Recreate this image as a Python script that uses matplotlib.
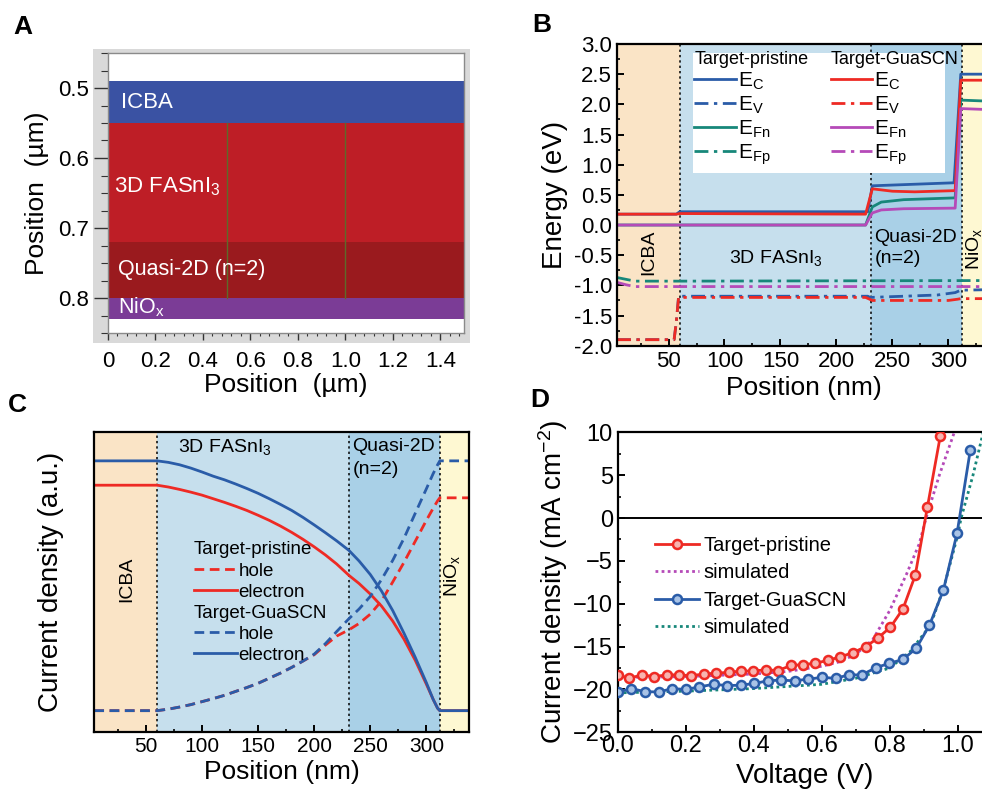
import matplotlib
matplotlib.use('Agg')
import matplotlib.pyplot as plt
from matplotlib.patches import Rectangle
from matplotlib.ticker import MultipleLocator, FormatStrFormatter

plt.rcParams['font.family'] = ['Liberation Sans', 'DejaVu Sans']
plt.rcParams['mathtext.fontset'] = 'custom'
plt.rcParams['mathtext.rm'] = 'Liberation Sans'
plt.rcParams['mathtext.it'] = 'Liberation Sans:italic'
plt.rcParams['mathtext.default'] = 'regular'

# ---- panel A: device layer stack (um)
layer_names = ['ICBA', '3D FASnI$_3$', 'Quasi-2D (n=2)', 'NiO$_x$']
layer_top = [0.49, 0.55, 0.72, 0.80]
layer_bottom = [0.55, 0.72, 0.80, 0.83]
layer_colors = ['#3A52A3', '#BE1E26', '#9A1A1E', '#7B3C96']
mesh_x = [0.5, 1.0]

# ---- region boundaries (nm) for B and C
x_min, x_max = 4, 338
b_icba, b_3d, b_q2d = 60, 231, 312

# ---- panel B: band diagram (eV)
ec_p_x = [4, 57, 60, 228, 232, 305, 311, 340]
ec_p = [0.18, 0.18, 0.22, 0.22, 0.65, 0.70, 2.50, 2.50]
ev_p_x = [4, 55, 57, 59, 228, 230, 290, 306, 311, 340]
ev_p = [-1.90, -1.90, -1.6, -1.18, -1.18, -1.20, -1.16, -1.12, -1.08, -1.07]
efn_p_x = [4, 226, 232, 240, 260, 306, 311, 340]
efn_p = [0.0, 0.0, 0.30, 0.38, 0.42, 0.45, 2.07, 2.05]
efp_p_x = [4, 12, 20, 60, 340]
efp_p = [-0.87, -0.90, -0.93, -0.93, -0.92]

ec_g_x = [4, 57, 60, 226, 232, 250, 270, 306, 311, 340]
ec_g = [0.18, 0.18, 0.19, 0.18, 0.60, 0.56, 0.55, 0.57, 2.40, 2.40]
ev_g_x = [4, 55, 57, 59, 226, 232, 300, 308, 311, 340]
ev_g = [-1.90, -1.90, -1.6, -1.20, -1.20, -1.25, -1.25, -1.23, -1.22, -1.22]
efn_g_x = [4, 226, 232, 240, 260, 306, 311, 340]
efn_g = [0.0, 0.0, 0.20, 0.25, 0.27, 0.28, 1.93, 1.91]
efp_g_x = [4, 12, 20, 60, 340]
efp_g = [-0.95, -0.99, -1.02, -1.02, -1.02]

# ---- panel C: current density (a.u.)
pos_c = [4, 60, 70, 80, 90, 100, 110, 120, 130, 140, 150, 160, 170, 180, 190,
         200, 210, 220, 231, 240, 250, 260, 270, 280, 290, 300, 306, 310, 312,
         338]
elec_g = [0.903, 0.903, 0.898, 0.89, 0.879, 0.866, 0.852, 0.84, 0.826, 0.811,
          0.795, 0.777, 0.758, 0.738, 0.715, 0.69, 0.664, 0.637, 0.605, 0.57,
          0.525, 0.47, 0.405, 0.33, 0.25, 0.165, 0.11, 0.08, 0.072, 0.072]
elec_p = [0.822, 0.822, 0.816, 0.808, 0.799, 0.789, 0.777, 0.765, 0.752, 0.738,
          0.722, 0.705, 0.686, 0.665, 0.642, 0.617, 0.59, 0.56, 0.522, 0.495,
          0.46, 0.42, 0.37, 0.31, 0.24, 0.16, 0.11, 0.08, 0.072, 0.072]
hole_g = [0.072, 0.072, 0.077, 0.084, 0.092, 0.102, 0.112, 0.123, 0.136, 0.149,
          0.163, 0.18, 0.197, 0.216, 0.237, 0.26, 0.295, 0.335, 0.378, 0.41,
          0.452, 0.508, 0.572, 0.645, 0.728, 0.81, 0.86, 0.89, 0.903, 0.903]
hole_p = [0.072, 0.072, 0.077, 0.084, 0.092, 0.102, 0.112, 0.123, 0.136, 0.149,
          0.163, 0.18, 0.197, 0.216, 0.237, 0.258, 0.29, 0.32, 0.341, 0.362,
          0.393, 0.437, 0.5, 0.565, 0.635, 0.705, 0.745, 0.77, 0.78, 0.78]

# ---- panel D: J-V curves
v_p = [0.0, 0.034, 0.071, 0.108, 0.144, 0.179, 0.216, 0.253, 0.290, 0.327,
       0.363, 0.399, 0.436, 0.471, 0.51, 0.546, 0.581, 0.618, 0.655, 0.692,
       0.73, 0.765, 0.802, 0.839, 0.875, 0.911, 0.949]
j_p = [-18.3, -18.7, -18.3, -18.5, -18.3, -18.3, -18.4, -18.2, -18.1, -18.0,
       -17.85, -17.85, -17.7, -17.8, -17.2, -17.1, -16.95, -16.6, -16.2, -15.7,
       -15.0, -14.0, -12.75, -10.6, -6.7, 1.3, 9.6]
v_g = [0.0, 0.040, 0.080, 0.121, 0.160, 0.201, 0.240, 0.282, 0.322, 0.363,
       0.402, 0.441, 0.480, 0.520, 0.559, 0.600, 0.642, 0.679, 0.718, 0.760,
       0.799, 0.839, 0.878, 0.917, 0.958, 0.998, 1.037]
j_g = [-20.3, -19.9, -20.25, -20.3, -19.9, -20.0, -19.7, -19.4, -19.55, -19.5,
       -19.3, -19.0, -18.9, -19.0, -18.8, -18.6, -18.7, -18.3, -18.3, -17.45,
       -16.95, -16.5, -15.2, -12.5, -8.4, -1.8, 7.9]
v_sim_p = [0.0, 0.2, 0.4, 0.5, 0.6, 0.65, 0.7, 0.75, 0.8, 0.85, 0.887, 0.907,
           0.946, 0.99]
j_sim_p = [-18.6, -18.5, -18.2, -17.9, -17.3, -16.8, -15.9, -14.2, -10.8,
           -6.5, -3.0, 0.0, 5.0, 10.0]
v_sim_g = [0.0, 0.2, 0.4, 0.6, 0.7, 0.8, 0.86, 0.92, 0.96, 1.0, 1.01, 1.045,
           1.075]
j_sim_g = [-20.4, -20.2, -19.9, -19.4, -18.7, -17.5, -15.6, -12.5, -8.0,
           -2.0, 0.0, 5.0, 10.0]

red = '#EE2A24'
blue = '#2A5CA8'
magenta = '#B54AB8'
teal = '#17877A'
dashdot = (0, (5, 2, 1.2, 2))

fig = plt.figure(figsize=(9.82, 8.0), dpi=100)
W, H = 982.0, 800.0


def box(l, t, r, b):
    return [l / W, 1 - b / H, (r - l) / W, (b - t) / H]


# ================= A
fig.patches.append(Rectangle((93 / W, 1 - 343 / H), 377 / W, 294 / H,
                             transform=fig.transFigure, facecolor='#D9D9D9',
                             edgecolor='none', zorder=-5))
axA = fig.add_axes(box(108, 53, 464, 333))
axA.set_zorder(2)
for name, top, bot, col in zip(layer_names, layer_top, layer_bottom, layer_colors):
    axA.axhspan(top, bot, color=col, lw=0)
for xm in mesh_x:
    axA.plot([xm, xm], [layer_top[1], layer_bottom[2]], color='#5E6A2A', lw=1)
axA.set_xlim(0, 1.5)
axA.set_ylim(0.85, 0.45)
axA.text(0.053, 0.521, layer_names[0], color='white', fontsize=16, va='center')
axA.text(0.025, 0.641, layer_names[1], color='white', fontsize=16, va='center')
axA.text(0.043, 0.759, layer_names[2], color='white', fontsize=15.5, va='center')
axA.text(0.043, 0.813, layer_names[3], color='white', fontsize=15.5, va='center')
axA.set_xticks([0, 0.2, 0.4, 0.6, 0.8, 1.0, 1.2, 1.4])
axA.set_xticklabels(['0', '0.2', '0.4', '0.6', '0.8', '1.0', '1.2', '1.4'])
axA.xaxis.set_minor_locator(MultipleLocator(0.04))
axA.set_yticks([0.5, 0.6, 0.7, 0.8])
axA.set_yticklabels(['0.5', '0.6', '0.7', '0.8'])
axA.yaxis.set_minor_locator(MultipleLocator(0.025))
axA.tick_params(axis='y', which='major', direction='out', length=10, width=1,
                labelsize=16, color='#333333')
axA.tick_params(axis='y', which='minor', direction='out', length=5, width=0.8,
                color='#333333')
axA.tick_params(axis='x', which='major', direction='out', length=5, width=1,
                labelsize=16, color='#333333', pad=8)
axA.tick_params(axis='x', which='minor', direction='out', length=2.5, width=0.8,
                color='#333333')
for s in axA.spines.values():
    s.set_color('#8A8A8A')
    s.set_linewidth(1)
axA.set_xlabel('Position  (\u00b5m)', fontsize=19, labelpad=1)
axA.set_ylabel('Position  (\u00b5m)', fontsize=19, labelpad=7)


def regions(ax):
    ax.axvspan(x_min, b_icba, color='#FAE4C6', lw=0, zorder=0)
    ax.axvspan(b_icba, b_3d, color='#C6DFED', lw=0, zorder=0)
    ax.axvspan(b_3d, b_q2d, color='#A9D0E7', lw=0, zorder=0)
    ax.axvspan(b_q2d, x_max, color='#FEF8D2', lw=0, zorder=0)
    for b in (b_icba, b_3d, b_q2d):
        ax.axvline(b, color='black', ls=(0, (1.5, 2)), lw=1.1, zorder=1)


def style(ax):
    for s in ax.spines.values():
        s.set_linewidth(1.6)
    ax.tick_params(which='major', direction='in', length=5, width=1.4,
                   labelsize=15)
    ax.tick_params(which='minor', direction='in', length=2.5, width=1.2)


# ================= B
axB = fig.add_axes(box(617, 44, 991, 345.7))
regions(axB)
l1, = axB.plot(ec_p_x, ec_p, color=blue, lw=2, label='E$_C$')
l2, = axB.plot(ev_p_x, ev_p, color=blue, lw=2, ls=dashdot, label='E$_V$')
l3, = axB.plot(efn_p_x, efn_p, color=teal, lw=2, label='E$_{Fn}$')
l4, = axB.plot(efp_p_x, efp_p, color=teal, lw=2, ls=dashdot, label='E$_{Fp}$')
l5, = axB.plot(ec_g_x, ec_g, color=red, lw=2, label='E$_C$')
l6, = axB.plot(ev_g_x, ev_g, color=red, lw=2, ls=dashdot, label='E$_V$')
l7, = axB.plot(efn_g_x, efn_g, color=magenta, lw=2, label='E$_{Fn}$')
l8, = axB.plot(efp_g_x, efp_g, color=magenta, lw=2, ls=dashdot, label='E$_{Fp}$')
axB.set_xlim(x_min, x_max)
axB.set_ylim(-2.0, 3.0)
axB.xaxis.set_major_locator(MultipleLocator(50))
axB.xaxis.set_minor_locator(MultipleLocator(25))
axB.yaxis.set_major_locator(MultipleLocator(0.5))
axB.yaxis.set_minor_locator(MultipleLocator(0.25))
axB.yaxis.set_major_formatter(FormatStrFormatter('%.1f'))
style(axB)
axB.tick_params(labelsize=16)
axB.set_xlabel('Position (nm)', fontsize=19, labelpad=3)
axB.set_ylabel('Energy (eV)', fontsize=20, labelpad=4)
axB.add_patch(Rectangle((0.202, 0.572), 0.675, 0.398, transform=axB.transAxes,
                        facecolor='white', edgecolor='none', zorder=4))
leg_kw = dict(loc='upper left', frameon=False, fontsize=15, title_fontsize=13,
              handlelength=2.0, handletextpad=0.1, labelspacing=0.12,
              borderpad=0.2, borderaxespad=0, alignment='left')
legB1 = axB.legend(handles=[l1, l2, l3, l4], title='Target-pristine',
                   bbox_to_anchor=(0.196, 0.99), **leg_kw)
legB1.set_zorder(5)
axB.add_artist(legB1)
legB2 = axB.legend(handles=[l5, l6, l7, l8], title='Target-GuaSCN',
                   bbox_to_anchor=(0.56, 0.99), **leg_kw)
legB2.set_zorder(5)
axB.text(32, -0.46, 'ICBA', rotation=90, fontsize=14, ha='center', va='center')
axB.text(104, -0.55, '3D FASnI$_3$', fontsize=14, va='center')
axB.text(234, -0.38, 'Quasi-2D\n(n=2)', fontsize=14, va='center', linespacing=1.3)
axB.text(323, -0.4, 'NiO$_x$', rotation=90, fontsize=14, ha='center', va='center')

# ================= C
axC = fig.add_axes(box(94.3, 431.7, 469, 732.3))
regions(axC)
c1, = axC.plot(pos_c, hole_p, color=red, lw=2, ls=(0, (3.5, 2)), label='hole')
c2, = axC.plot(pos_c, elec_p, color=red, lw=2, label='electron')
c3, = axC.plot(pos_c, hole_g, color=blue, lw=2, ls=(0, (3.5, 2)), label='hole')
c4, = axC.plot(pos_c, elec_g, color=blue, lw=2, label='electron')
axC.set_xlim(x_min, x_max)
axC.set_ylim(0, 1)
axC.set_yticks([])
axC.xaxis.set_major_locator(MultipleLocator(50))
axC.xaxis.set_minor_locator(MultipleLocator(25))
style(axC)
axC.set_xlabel('Position (nm)', fontsize=19, labelpad=3)
axC.set_ylabel('Current density (a.u.)', fontsize=20, labelpad=22)
legC_kw = dict(loc='upper left', frameon=False, fontsize=13.5, title_fontsize=13.5,
               handlelength=2.3, handletextpad=0.1, labelspacing=0.22,
               borderpad=0, borderaxespad=0, alignment='left')
legC1 = axC.legend(handles=[c1, c2], title='Target-pristine',
                   bbox_to_anchor=(0.265, 0.635), **legC_kw)
axC.add_artist(legC1)
axC.legend(handles=[c3, c4], title='Target-GuaSCN',
           bbox_to_anchor=(0.265, 0.425), **legC_kw)
axC.text(79, 0.95, '3D FASnI$_3$', fontsize=14, va='center')
axC.text(234, 0.95, 'Quasi-2D', fontsize=14, va='center')
axC.text(234, 0.875, '(n=2)', fontsize=14, va='center')
axC.text(33, 0.51, 'ICBA', rotation=90, fontsize=14, ha='center', va='center')
axC.text(323, 0.52, 'NiO$_x$', rotation=90, fontsize=14, ha='center', va='center')

# ================= D
axD = fig.add_axes(box(617.7, 432.3, 991.7, 732.3))
axD.axhline(0, color='black', lw=1.4)
axD.plot(v_p, j_p, color=red, lw=2, marker='o', ms=6.5, mfc='#F7B4B0',
         mec=red, mew=1.8, label='Target-pristine', zorder=4)
axD.plot(v_sim_p, j_sim_p, color=magenta, lw=2, ls=(0, (1, 1.2)),
         label='simulated', zorder=3)
axD.plot(v_g, j_g, color=blue, lw=2, marker='o', ms=6.5, mfc='#A9C3E6',
         mec=blue, mew=1.8, label='Target-GuaSCN', zorder=4)
axD.plot(v_sim_g, j_sim_g, color=teal, lw=2, ls=(0, (1, 1.2)),
         label='simulated', zorder=3)
axD.set_xlim(0, 1.1)
axD.set_ylim(-25, 10)
axD.xaxis.set_major_locator(MultipleLocator(0.2))
axD.xaxis.set_minor_locator(MultipleLocator(0.1))
axD.yaxis.set_major_locator(MultipleLocator(5))
axD.yaxis.set_minor_locator(MultipleLocator(2.5))
axD.xaxis.set_major_formatter(FormatStrFormatter('%.1f'))
style(axD)
axD.tick_params(labelsize=17)
axD.tick_params(axis='x', pad=2)
axD.set_xlabel('Voltage (V)', fontsize=20, labelpad=4)
axD.set_ylabel('Current density (mA cm$^{-2}$)', fontsize=20, labelpad=2)
axD.legend(loc='upper left', bbox_to_anchor=(0.1, 0.655), frameon=False,
           fontsize=14.5, handlelength=2.2, handletextpad=0.2, labelspacing=0.42,
           borderpad=0, borderaxespad=0)

# panel letters
fig.text(13 / W, 1 - 27 / H, 'A', fontsize=19, fontweight='bold', va='center')
fig.text(532 / W, 1 - 25 / H, 'B', fontsize=19, fontweight='bold', va='center')
fig.text(8 / W, 1 - 405 / H, 'C', fontsize=19, fontweight='bold', va='center')
fig.text(530 / W, 1 - 400 / H, 'D', fontsize=19, fontweight='bold', va='center')

fig.savefig('out.png', dpi=100)
